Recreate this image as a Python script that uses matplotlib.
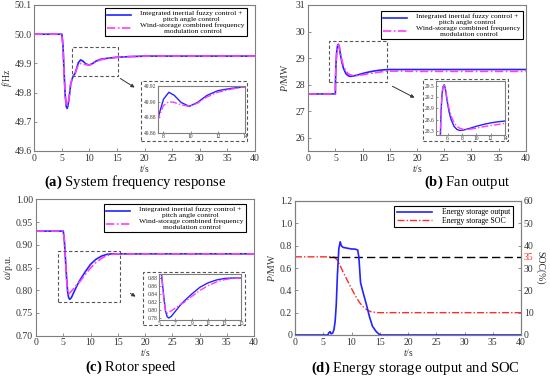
import matplotlib
matplotlib.use("Agg")
import matplotlib.pyplot as plt
from matplotlib.patches import Rectangle
from matplotlib.ticker import FuncFormatter

plt.rcParams['font.family'] = ['Liberation Serif', 'DejaVu Serif']
plt.rcParams['mathtext.fontset'] = 'custom'
plt.rcParams['mathtext.rm'] = 'Liberation Serif'
plt.rcParams['mathtext.it'] = 'Liberation Serif:italic'
plt.rcParams['mathtext.bf'] = 'Liberation Serif:bold'

# ---- data ----
# (a) system frequency
t_a = [0, 5, 5.2, 5.4, 5.6, 5.8, 5.95, 6.1, 6.3, 6.6, 7.0, 7.4, 7.7, 8.0, 8.4, 8.8,
       9.3, 9.9, 10.5, 11.2, 12, 13, 14, 15, 17, 20, 40]
f_fuzzy = [50.0, 50.0, 49.96, 49.87, 49.79, 49.752, 49.746, 49.755, 49.78, 49.83, 49.855,
           49.866, 49.885, 49.903, 49.912, 49.908, 49.899, 49.894, 49.899, 49.908, 49.914,
           49.917, 49.919, 49.921, 49.923, 49.925, 49.925]
f_combined = [50.0, 50.0, 49.96, 49.87, 49.795, 49.758, 49.752, 49.76, 49.783, 49.83, 49.855,
              49.866, 49.882, 49.895, 49.9, 49.899, 49.896, 49.894, 49.898, 49.906, 49.912,
              49.916, 49.919, 49.921, 49.923, 49.925, 49.925]

# (b) fan output
t_b = [0, 4.98, 5.0, 5.1, 5.25, 5.4, 5.55, 5.7, 5.9, 6.2, 6.5, 6.9, 7.3, 7.7, 8.2, 9,
       10, 11, 12, 13, 14, 15, 17, 20, 40]
p_fuzzy = [27.65, 27.65, 28.1, 28.8, 29.3, 29.48, 29.52, 29.42, 29.15, 28.82, 28.6, 28.42,
           28.34, 28.31, 28.32, 28.36, 28.42, 28.47, 28.51, 28.54, 28.56, 28.57, 28.57,
           28.57, 28.57]
p_combined = [27.65, 27.65, 28.1, 28.8, 29.3, 29.47, 29.5, 29.43, 29.2, 28.9, 28.7, 28.52,
              28.42, 28.37, 28.34, 28.34, 28.37, 28.41, 28.44, 28.47, 28.5, 28.51, 28.51,
              28.5, 28.5]

# (c) rotor speed
t_c = [0, 5.0, 5.2, 5.4, 5.6, 5.8, 6.0, 6.2, 6.5, 7.0, 7.6, 8, 9, 10, 11, 12, 13, 14, 15, 40]
w_fuzzy = [0.93, 0.93, 0.91, 0.87, 0.83, 0.797, 0.783, 0.780, 0.784, 0.797, 0.812, 0.821,
           0.840, 0.857, 0.868, 0.875, 0.879, 0.88, 0.88, 0.88]
w_combined = [0.93, 0.93, 0.91, 0.87, 0.825, 0.796, 0.792, 0.794, 0.798, 0.805, 0.814, 0.818,
              0.834, 0.849, 0.861, 0.870, 0.876, 0.879, 0.88, 0.88]

# (d) energy storage output and SOC
t_es = [0, 5.8, 6.0, 6.2, 6.4, 6.7, 6.9, 7.1, 7.3, 7.5, 7.75, 8.0, 8.2, 8.5, 9.0, 9.5, 10.0,
        10.5, 10.9, 11.1, 11.3, 11.6, 12.0, 12.6, 13.2, 13.7, 14.3, 14.8, 15.2, 40]
p_es = [0, 0, 0.02, 0.03, 0.01, 0.02, 0.05, 0.12, 0.27, 0.53, 0.77, 0.835, 0.80, 0.785, 0.78,
        0.775, 0.77, 0.77, 0.765, 0.76, 0.70, 0.47, 0.39, 0.28, 0.16, 0.08, 0.035, 0.01, 0, 0]
t_soc = [0, 6.5, 7.0, 7.5, 8.0, 8.5, 9.0, 9.5, 10.0, 10.5, 11.0, 11.5, 12.0, 12.5, 13.0,
         13.5, 14.0, 14.5, 15.0, 40]
soc = [35, 35, 34.8, 33.5, 31, 28.3, 25.8, 23.3, 20.8, 18.4, 16.2, 14.3, 12.8, 11.7, 10.9,
       10.4, 10.2, 10.05, 10, 10]
soc_ref = 35
soc_ref_start = 6

label_fuzzy = 'Integrated inertial fuzzy control +\npitch angle control'
label_combined = 'Wind-storage combined frequency\nmodulation control'

BLUE = '#2323ff'
PINK = '#ff3cff'
RED = '#ff2a2a'
GRAY = '#7f7f7f'
TXT = '#333333'

W, H = 550, 377
fig = plt.figure(figsize=(W / 100, H / 100), dpi=100)


def box(l, t, r, b):
    return [l / W, 1 - b / H, (r - l) / W, (b - t) / H]


def style(ax, size=7):
    for s in ax.spines.values():
        s.set_color(GRAY)
        s.set_linewidth(0.8)
    ax.tick_params(direction='in', length=2, width=0.6, colors=GRAY,
                   labelcolor=TXT, labelsize=size, pad=2)


def add_legend(ax, right, top):
    leg = ax.legend(loc='upper right', bbox_to_anchor=(right / W, 1 - top / H),
                    bbox_transform=fig.transFigure, borderaxespad=0, fontsize=5.4,
                    frameon=True, fancybox=False, edgecolor='black', framealpha=1,
                    handlelength=3.2, labelspacing=0.1, borderpad=0.3, handletextpad=1.2)
    leg.get_frame().set_linewidth(0.8)
    for txt in leg.get_texts():
        txt.set_multialignment('center')
    return leg


def zoom_box(ax, rect, inner, outer, arrow, xlim, ylim, xticks, yticks, fmt, x, y1, y2, ls2):
    # dashed box on the main axes
    ax.add_patch(Rectangle((rect[0], rect[1]), rect[2] - rect[0], rect[3] - rect[1],
                           fill=False, ls=(0, (3, 2)), lw=0.8, ec='#555555', zorder=5))
    # dashed frame around the inset
    fig.patches.append(Rectangle((outer[0] / W, 1 - outer[3] / H),
                                 (outer[2] - outer[0]) / W, (outer[3] - outer[1]) / H,
                                 transform=fig.transFigure, fill=True, fc='white',
                                 ls=(0, (3, 2)), lw=0.8, ec='#555555', zorder=3))
    ax.annotate('', xy=(arrow[2], H - arrow[3]), xytext=(arrow[0], H - arrow[1]),
                xycoords='figure pixels', textcoords='figure pixels',
                arrowprops=dict(arrowstyle='-|>', color='#333333', lw=0.7,
                                mutation_scale=5))
    ins = fig.add_axes(box(*inner))
    ins.set_zorder(4)
    ins.plot(x, y1, color=BLUE, lw=1.0)
    ins.plot(x, y2, color=PINK, lw=1.0, ls=ls2)
    ins.set_xlim(*xlim)
    ins.set_ylim(*ylim)
    ins.set_xticks(xticks)
    ins.set_yticks(yticks)
    ins.yaxis.set_major_formatter(FuncFormatter(lambda v, p: fmt % v))
    style(ins, size=4)
    ins.tick_params(pad=1, length=1.5)
    return ins


dashdot = (0, (5, 1.5, 1, 1.5))

# ---- (a) system frequency response ----
ax_a = fig.add_axes(box(34.3, 5, 255, 151))
ax_a.plot(t_a, f_fuzzy, color=BLUE, lw=1.2, label=label_fuzzy)
ax_a.plot(t_a, f_combined, color=PINK, lw=1.2, ls=dashdot, label=label_combined)
ax_a.set_xlim(0, 40)
ax_a.set_ylim(49.6, 50.1)
ax_a.set_xticks(range(0, 41, 5))
ax_a.set_yticks([49.6, 49.7, 49.8, 49.9, 50.0, 50.1])
ax_a.yaxis.set_major_formatter(FuncFormatter(lambda v, p: '%.1f' % v))
ax_a.set_xlabel('$t$/s', fontsize=7, labelpad=0, color=TXT)
ax_a.set_ylabel('$f$/Hz', fontsize=7, labelpad=0, color=TXT)
style(ax_a)
add_legend(ax_a, 247, 8)
zoom_box(ax_a, (6.8, 49.857, 15.2, 49.957), (158, 86, 245, 133), (141, 81, 247, 141),
         (118, 77, 137, 89), (7.6, 14), (49.86, 49.92), [8, 10, 12, 14],
         [49.86, 49.88, 49.90, 49.92], '%.2f', t_a, f_fuzzy, f_combined, dashdot)

# ---- (b) fan output ----
ax_b = fig.add_axes(box(308.3, 5, 525.7, 151))
ax_b.plot(t_b, p_fuzzy, color=BLUE, lw=1.2, label=label_fuzzy)
ax_b.plot(t_b, p_combined, color=PINK, lw=1.2, ls=dashdot, label=label_combined)
ax_b.set_xlim(0, 40)
ax_b.set_ylim(25.5, 31)
ax_b.set_xticks(range(0, 41, 5))
ax_b.set_yticks(range(26, 32))
ax_b.set_xlabel('$t$/s', fontsize=7, labelpad=0, color=TXT)
ax_b.set_ylabel('$P$/MW', fontsize=7, labelpad=4, color=TXT)
style(ax_b)
add_legend(ax_b, 523, 11)
zoom_box(ax_b, (3.9, 28.1, 14.5, 29.66), (436, 81, 505, 135), (423, 79, 508, 141),
         (390, 85, 417, 99), (4.4, 14), (28.19, 29.62), [6, 8, 10, 12, 14],
         [28.3, 28.6, 28.9, 29.2, 29.5], '%.1f', t_b, p_fuzzy, p_combined, dashdot)

# ---- (c) rotor speed ----
ax_c = fig.add_axes(box(36, 199.3, 254, 335.7))
ax_c.plot(t_c, w_fuzzy, color=BLUE, lw=1.2, label=label_fuzzy)
ax_c.plot(t_c, w_combined, color=PINK, lw=1.2, ls=dashdot, label=label_combined)
ax_c.set_xlim(0, 40)
ax_c.set_ylim(0.70, 1.00)
ax_c.set_xticks(range(0, 41, 5))
ax_c.set_yticks([0.70, 0.75, 0.80, 0.85, 0.90, 0.95, 1.00])
ax_c.yaxis.set_major_formatter(FuncFormatter(lambda v, p: '%.2f' % v))
ax_c.set_xlabel('$t$/s', fontsize=7, labelpad=0, color=TXT)
ax_c.set_ylabel(r'$\omega$/p.u.', fontsize=7, labelpad=1, color=TXT)
style(ax_c)
add_legend(ax_c, 246, 204)
zoom_box(ax_c, (4.0, 0.7735, 15.5, 0.886), (159, 274, 241, 320), (143, 272, 245, 325),
         (128, 292, 138, 298), (5, 15), (0.775, 0.89), [5, 7, 9, 11, 13, 15],
         [0.78, 0.80, 0.82, 0.84, 0.86, 0.88], '%.2f', t_c, w_fuzzy, w_combined, dashdot)

# ---- (d) energy storage output and SOC ----
ax_d = fig.add_axes(box(295, 201, 521, 335))
ax_d2 = ax_d.twinx()
ln1, = ax_d.plot(t_es, p_es, color=BLUE, lw=1.2, label='Energy storage output', zorder=3)
ln2, = ax_d2.plot(t_soc, soc, color=RED, lw=1.0, ls=dashdot, label='Energy storage SOC')
ax_d2.plot([soc_ref_start, 40], [soc_ref, soc_ref], color='black', lw=1.0, ls=(0, (6, 3)))
ax_d.set_xlim(0, 40)
ax_d.set_ylim(0, 1.2)
ax_d2.set_ylim(0, 60)
ax_d.set_xticks(range(0, 41, 5))
ax_d.set_yticks([0, 0.2, 0.4, 0.6, 0.8, 1.0, 1.2])
ax_d.yaxis.set_major_formatter(FuncFormatter(lambda v, p: '0' if v == 0 else '%.1f' % v))
ax_d2.set_yticks([0, 10, 20, 30, 35, 40, 50, 60])
ax_d.set_xlabel('$t$/s', fontsize=7, labelpad=0, color=TXT)
ax_d.set_ylabel('$P$/MW', fontsize=7, labelpad=2, color=TXT)
ax_d2.set_ylabel('SOC(%)', fontsize=7, rotation=270, labelpad=8, color=TXT)
style(ax_d)
style(ax_d2)
for lab in ax_d2.get_yticklabels():
    if lab.get_text() == '35':
        lab.set_color(RED)
ax_d.set_zorder(ax_d2.get_zorder() + 1)
ax_d.patch.set_visible(False)
leg = ax_d.legend(handles=[ln1, ln2], loc='upper right', bbox_to_anchor=(513 / W, 1 - 206 / H),
                  bbox_transform=fig.transFigure, borderaxespad=0, fontsize=5.6,
                  fancybox=False, edgecolor='black', framealpha=1, handlelength=4.5,
                  labelspacing=0.1, borderpad=0.3, handletextpad=1.4)
leg.get_frame().set_linewidth(0.8)

# ---- captions ----
cap = dict(fontsize=10.5, ha='center', va='center', color='black')
fig.text(135 / W, 1 - 182 / H, r'$\mathbf{(a)}$ System frequency response', **cap)
fig.text(467 / W, 1 - 182 / H, r'$\mathbf{(b)}$ Fan output', **cap)
fig.text(131 / W, 1 - 367 / H, r'$\mathbf{(c)}$ Rotor speed', **cap)
fig.text(415 / W, 1 - 368 / H, r'$\mathbf{(d)}$ Energy storage output and SOC', **cap)

fig.savefig('out.png', dpi=100)
